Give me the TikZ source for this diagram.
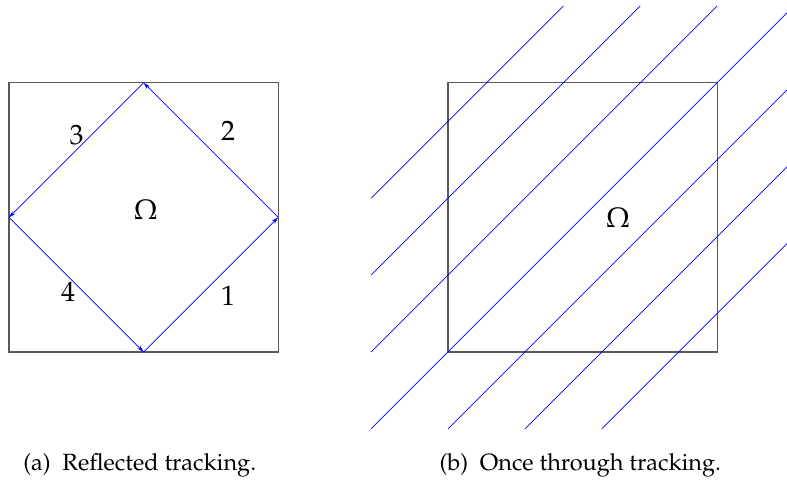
\documentclass[tikz,border=0pt]{standalone}
\usepackage[T1]{fontenc}
\usepackage{mathpazo}
\usetikzlibrary{arrows.meta}

\begin{document}
\begin{tikzpicture}[
  x=76.9pt, y=76.9pt,
  region/.style={draw=black!65, line width=1.2pt},
  ray/.style={draw=blue, line width=0.7pt},
  refl/.style={ray, -{Stealth[length=7pt, width=4pt]}},
  lbl/.style={font=\fontsize{28}{32}\selectfont, inner sep=0pt},
  capt/.style={font=\fontsize{23.5}{28}\selectfont, inner sep=0pt}
]
\clip (-0.117,-1.808) rectangle (10.117,4.577);

% (a) reflected tracking
\draw[region] (0,0) rectangle (3.5,3.5);
\coordinate (s) at (1.75,0);
\coordinate (e) at (3.5,1.75);
\coordinate (n) at (1.75,3.5);
\coordinate (w) at (0,1.75);
\draw[refl] (s) -- (e);
\draw[refl] (e) -- (n);
\draw[refl] (n) -- (w);
\draw[refl] (w) -- (s);
\node[lbl] (l1) at (2.85,0.73) {1};
\node[lbl] (l2) at (2.85,2.87) {2};
\node[lbl] (l3) at (0.88,2.82) {3};
\node[lbl] (l4) at (0.77,0.78) {4};
\node[lbl] (omA) at (1.78,1.85) {$\Omega$};
\node[capt] (capA) at (1.70,-1.48) {(a)\enspace Reflected tracking.};

% (b) once through tracking
\begin{scope}[shift={(5.709,0)}]
\draw[region] (0,0) rectangle (3.5,3.5);
\foreach \k in {1,2,3}
  \draw[ray] (-1,\k-1) -- (4.5-\k,4.5);
\foreach \k in {0,1,2,3}
  \draw[ray] (\k-1,-1) -- (4.5,4.5-\k);
\node[lbl] (omB) at (2.21,1.74) {$\Omega$};
\node[capt] (capB) at (1.72,-1.48) {(b)\enspace Once through tracking.};
\end{scope}
\end{tikzpicture}
\end{document}
